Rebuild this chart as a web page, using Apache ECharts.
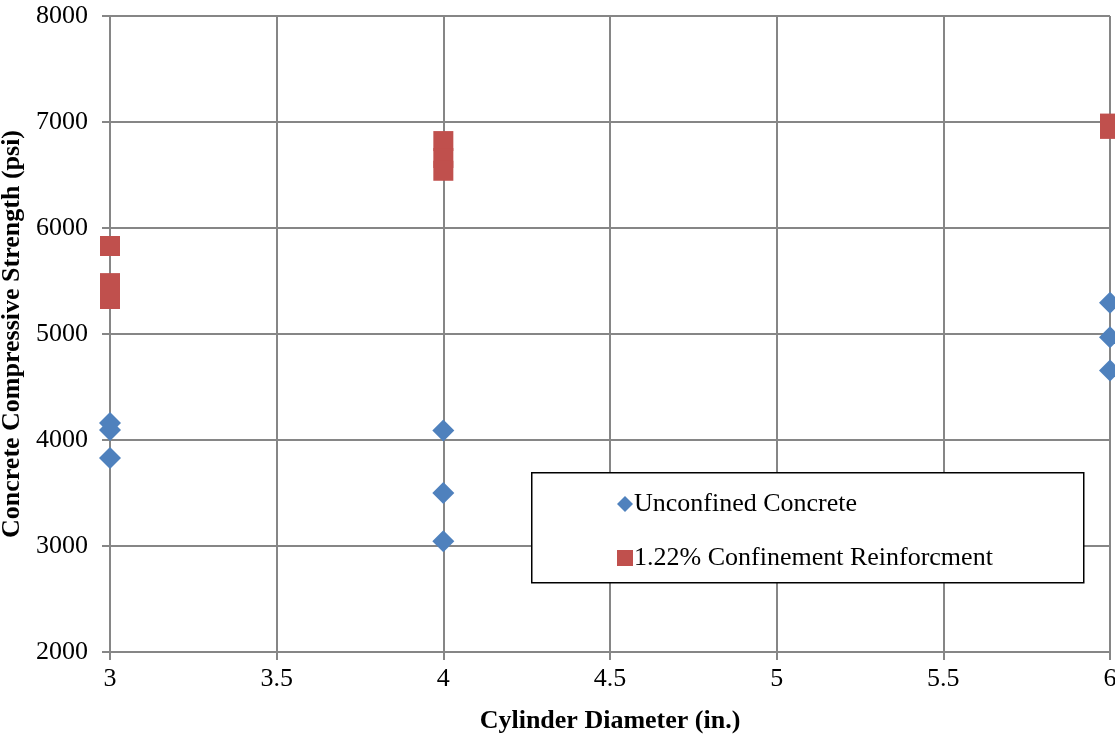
<!DOCTYPE html>
<html><head><meta charset="utf-8">
<script src="https://cdn.jsdelivr.net/npm/echarts@6/dist/echarts.min.js"></script>
<style>html,body{margin:0;padding:0;background:#fff}#c{width:1115px;height:739px}</style>
</head><body><div id="c"></div>
<script>
const unconfinedX = [3, 3, 3, 4, 4, 4, 6, 6, 6];
const unconfinedY = [4160, 4095, 3830, 4090, 3500, 3045, 5295, 4970, 4655];
const confinedX = [3, 3, 3, 4, 4, 4, 6, 6];
const confinedY = [5830, 5480, 5330, 6820, 6660, 6540, 6985, 6935];
const seriesNames = ['Unconfined Concrete', '1.22% Confinement Reinforcment'];
const xTitle = 'Cylinder Diameter (in.)';
const yTitle = 'Concrete Compressive Strength (psi)';
const font = '"Liberation Serif","Times New Roman",serif';

const chart = echarts.init(document.getElementById('c'));
chart.setOption({
  animation: false,
  grid: {left: 110, right: 5, top: 16, bottom: 87, containLabel: false, outerBoundsMode: 'none'},
  xAxis: {
    type: 'value', min: 3, max: 6, interval: 0.5,
    name: xTitle, nameLocation: 'middle', nameGap: 56,
    nameTextStyle: {fontFamily: font, fontWeight: 'bold', fontSize: 26, color: '#000'},
    axisLine: {show: true, lineStyle: {color: '#868686', width: 2}},
    axisTick: {show: true, length: 8, lineStyle: {color: '#868686', width: 2}},
    axisLabel: {fontFamily: font, fontSize: 26, color: '#000', margin: 14,
      formatter: v => String(v)},
    splitLine: {show: true, lineStyle: {color: '#868686', width: 2}}
  },
  yAxis: {
    type: 'value', min: 2000, max: 8000, interval: 1000,
    name: yTitle, nameLocation: 'middle', nameGap: 83, nameRotate: 90,
    nameTextStyle: {fontFamily: font, fontWeight: 'bold', fontSize: 26, color: '#000'},
    axisLine: {show: true, lineStyle: {color: '#868686', width: 2}},
    axisTick: {show: true, length: 8, lineStyle: {color: '#868686', width: 2}},
    axisLabel: {fontFamily: font, fontSize: 26, color: '#000', margin: 22,
      formatter: v => String(v)},
    splitLine: {show: true, lineStyle: {color: '#868686', width: 2}}
  },
  graphic: [{
    type: 'rect', left: 531, top: 472, z: 5,
    shape: {width: 552, height: 110},
    style: {fill: '#fff', stroke: '#000', lineWidth: 1.5}
  }],
  legend: {
    orient: 'vertical', left: 612, top: 486, z: 10,
    itemWidth: 16, itemHeight: 16, itemGap: 28,
    textStyle: {fontFamily: font, fontSize: 26, color: '#000', padding: [0,0,0,-4]},
    data: [
      {name: seriesNames[0], icon: 'diamond'},
      {name: seriesNames[1], icon: 'rect'}
    ]
  },
  series: [
    {
      name: seriesNames[0], type: 'scatter', symbol: 'diamond', symbolSize: 22,
      itemStyle: {color: '#4F81BD', opacity: 1}, z: 3,
      data: unconfinedX.map((x, i) => [x, unconfinedY[i]])
    },
    {
      name: seriesNames[1], type: 'scatter', symbol: 'rect', symbolSize: 20,
      itemStyle: {color: '#C0504D', opacity: 1}, z: 3,
      data: confinedX.map((x, i) => [x, confinedY[i]])
    }
  ]
});
</script></body></html>
